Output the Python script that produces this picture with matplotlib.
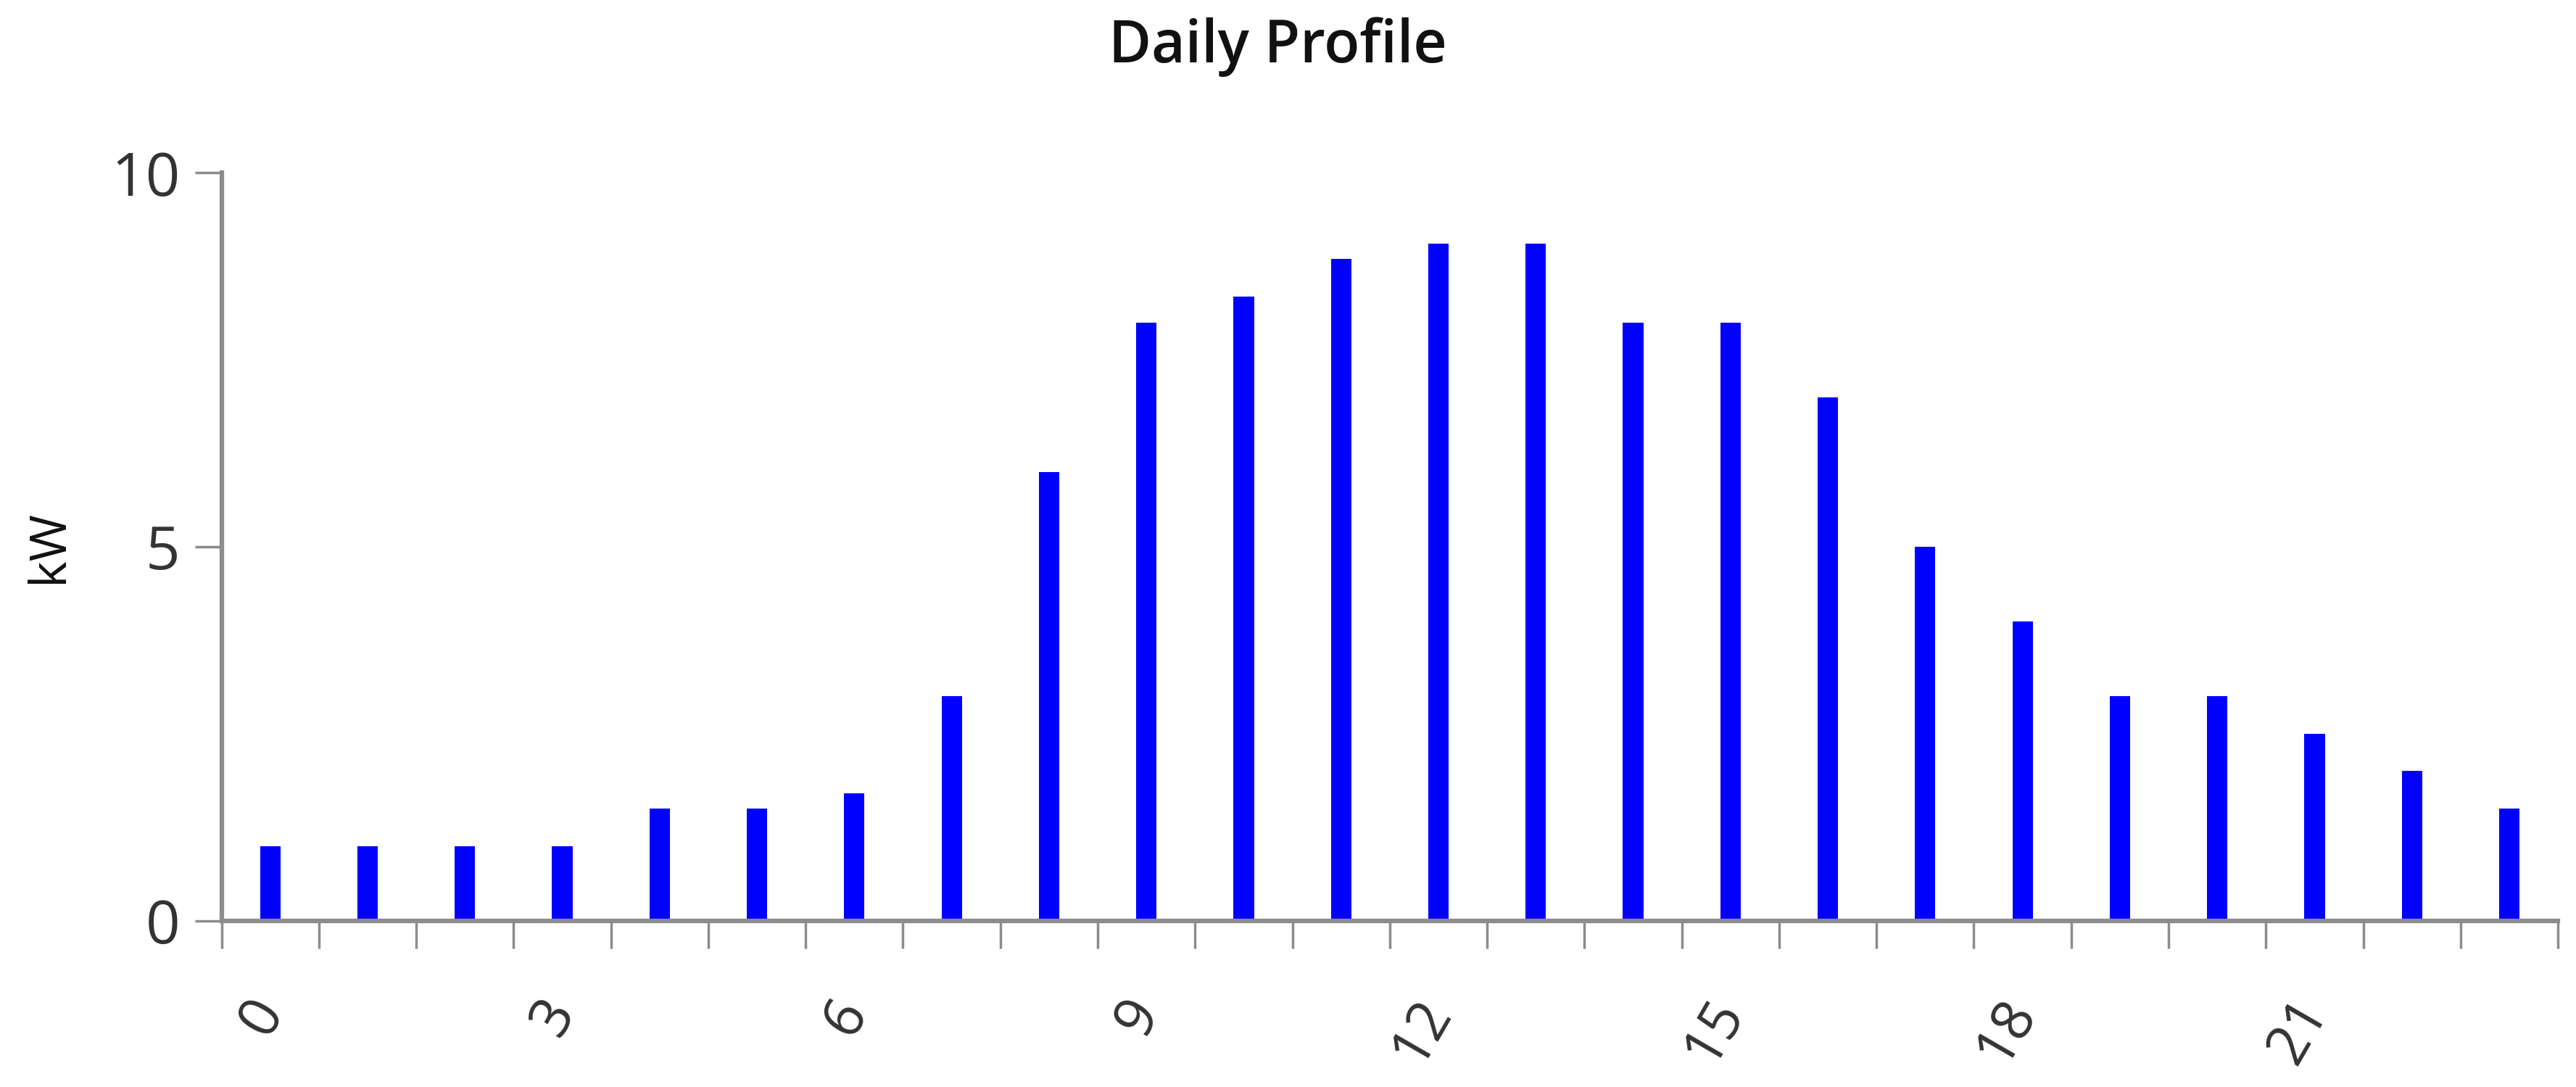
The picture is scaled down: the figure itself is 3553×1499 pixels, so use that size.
import matplotlib.pyplot as plt
import numpy as np

# hourly load profile
hours = list(range(24))
kw = [1, 1, 1, 1, 1.5, 1.5, 1.7, 3, 6, 8, 8.35, 8.85, 9.05, 9.05,
      8, 8, 7, 5, 4, 3, 3, 2.5, 2, 1.5]
label_hours = [0, 3, 6, 9, 12, 15, 18, 21]

plt.rcParams['font.family'] = ['Open Sans', 'DejaVu Sans']
axis_col = '#8c8c8c'
text_col = '#333333'

fig = plt.figure(figsize=(35.53, 14.99), dpi=100)
ax = fig.add_axes([0.086, 0.153, 0.907, 0.688])

ax.bar(hours, kw, width=0.21, color='#0000ff', zorder=2)

ax.set_xlim(-0.5, 23.5)
ax.set_ylim(0, 10)

# boundaries get tick marks, hour labels sit under the bars
ax.set_xticks(np.arange(-0.5, 24, 1), minor=True)
ax.set_xticks(label_hours)
ax.set_xticklabels([str(h) for h in label_hours], rotation=60,
                   rotation_mode='anchor', ha='right', va='center',
                   fontsize=56, color=text_col)
ax.tick_params(axis='x', which='major', length=0, pad=82)
ax.tick_params(axis='x', which='minor', length=27, width=2.5, color=axis_col)

ax.set_yticks([0, 5, 10])
ax.tick_params(axis='y', length=27, width=2.5, color=axis_col,
               labelsize=60, labelcolor=text_col, pad=14)

for s in ['top', 'right']:
    ax.spines[s].set_visible(False)
for s in ['left', 'bottom']:
    ax.spines[s].set_color(axis_col)
    ax.spines[s].set_linewidth(4.5)

fig.text(0.019, 0.497, 'kW', rotation=90, fontsize=50, color='#111111',
         ha='center', va='center')
fig.text(0.496, 0.957, 'Daily Profile', fontsize=58, fontweight='semibold',
         color='#111111', ha='center', va='center')

fig.savefig('out.png', dpi=100)
